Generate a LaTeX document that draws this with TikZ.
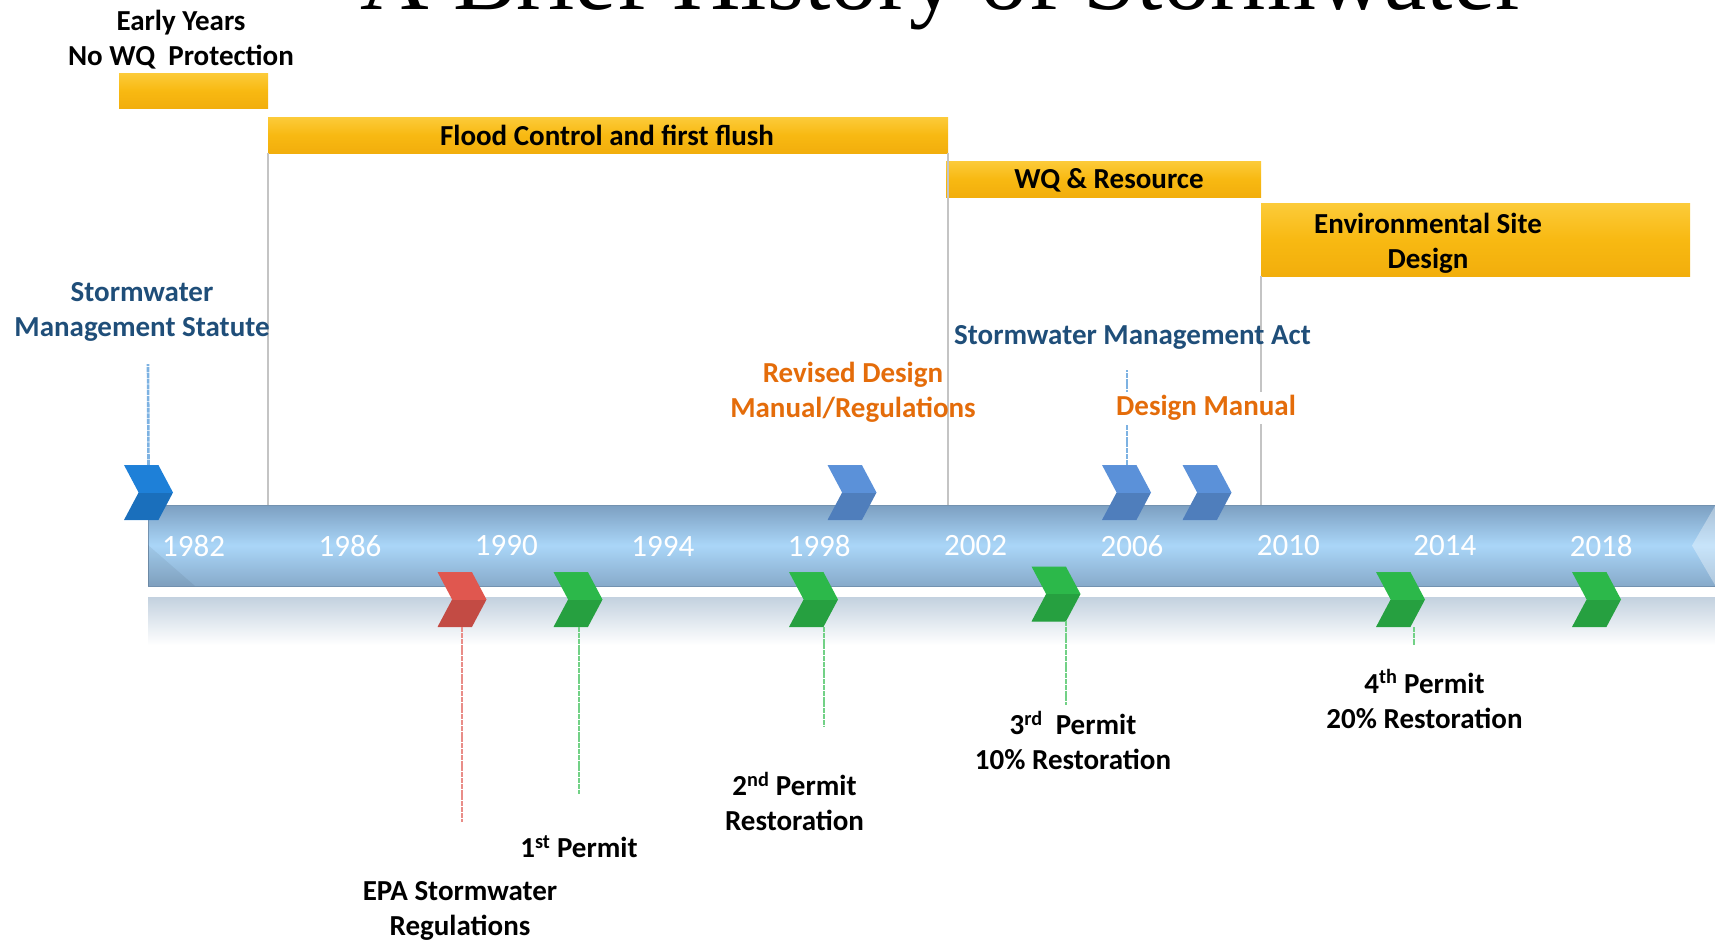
\documentclass[tikz,border=0pt]{standalone}
\usepackage{fontspec}
\setmainfont{Carlito}
\newfontfamily\titlefont{Liberation Serif}
\usetikzlibrary{shapes.symbols}
\definecolor{ybar}{HTML}{F8B912}
\definecolor{ybartop}{HTML}{FCCB3A}
\definecolor{ybarbot}{HTML}{F2AE0C}
\definecolor{gline}{HTML}{C4C4C4}
\definecolor{dblue}{HTML}{1F4E79}
\definecolor{orng}{HTML}{E46C0A}
\definecolor{tltop}{HTML}{7C9FC1}
\definecolor{tlmid}{HTML}{AAD6F8}
\definecolor{tlbot}{HTML}{87AACA}
\definecolor{tledge}{HTML}{7392B0}
\definecolor{reflc}{HTML}{C3D1DF}
\definecolor{cblue}{HTML}{1E80D8}
\definecolor{cblueb}{HTML}{5B91D9}
\definecolor{cred}{HTML}{E0574F}
\definecolor{cgreen}{HTML}{2CB84A}
\definecolor{lblue}{HTML}{7DB2E2}
\definecolor{lred}{HTML}{E98D88}
\definecolor{lgreen}{HTML}{72D186}
\begin{document}
\begin{tikzpicture}[x=1pt,y=-1pt,
  lbl/.style={font=\fontsize{29}{35}\selectfont\bfseries, align=center, inner sep=0pt},
  yr/.style={font=\fontsize{31}{36}\selectfont, text=white, inner sep=0pt},
  ybox/.style={draw=none, top color=ybartop, bottom color=ybarbot, middle color=ybar, inner sep=0pt},
  vline/.style={draw=gline, line width=2pt},
  chev/.style={signal, signal from=west, signal to=east, signal pointer angle=124,
    minimum width=49pt, minimum height=55pt, inner sep=0pt, draw=none, fill=#1,
    path picture={\fill[black,opacity=0.13] (path picture bounding box.west) rectangle (path picture bounding box.south east);
                  \fill[white,opacity=0.12] (path picture bounding box.north west) rectangle ([xshift=-14pt]path picture bounding box.north east);}},
  lead/.style={draw=#1, line width=2.6pt, dash pattern=on 5pt off 0.8pt}]
\useasboundingbox (0,0) rectangle (1715,940);
\begin{scope}
\clip (0,0) rectangle (1715,940);
% title (cut off at top, as in the original slide)
\node[font=\titlefont\fontsize{95}{100}\selectfont, anchor=base, inner sep=0pt] (title) at (944,9) {A Brief History of Stormwater};

% yellow period bars
\node[ybox, minimum width=149pt, minimum height=35pt] (b1) at (193.5,90.5) {};
\node[ybox, minimum width=680pt, minimum height=36pt] (b2) at (608,135) {};
\node[ybox, minimum width=315pt, minimum height=36pt] (b3) at (1103.5,179) {};
\node[ybox, minimum width=429pt, minimum height=73pt] (b4) at (1475.5,239.5) {};

% timeline bar and reflection
\shade[top color=reflc, bottom color=white] (148,597) rectangle (1715,645);
\node[draw=tledge, line width=0.8pt, top color=tltop, bottom color=tlbot, middle color=tlmid,
  minimum width=1567pt, minimum height=81pt, inner sep=0pt] (tl) at (931.5,545.5) {};
\fill[white,opacity=0.35] (1715,506) -- (1692,545.5) -- (1715,585) -- cycle;
\fill[black,opacity=0.06] (148,586) -- (148,545) -- (195,586) -- cycle;

% vertical separators
\draw[vline] (b2.south west) -- (b2.south west |- tl.north);
\draw[vline] (b2.south east) -- (b2.south east |- tl.north);
\draw[vline] (b4.south west) -- (b4.south west |- tl.north);

% texts in / above bars
\node[lbl] (t1) at (181,40) {Early Years\\No WQ\ \ Protection};
\node[lbl] (t2) at (607,135) {Flood Control and first flush};
\node[lbl] (t3) at (1109,180) {WQ \& Resource};
\node[lbl] (t4) at (1428,243) {Environmental Site\\Design};

% upper chevrons
\node[chev=cblue] (c1) at (148.5,492.5) {};
\node[chev=cblueb] (c2) at (852,492.5) {};
\node[chev=cblueb] (c3) at (1126.5,492.5) {};
\node[chev=cblueb] (c4) at (1207,492.5) {};

% leader ends
\coordinate (e1) at (148,364);
\coordinate (e3) at (1127,370);
\coordinate (er) at (462,822);
\coordinate (eg1) at (579,794);
\coordinate (sg2) at (824,627);
\coordinate (eg2) at (824,727);
\coordinate (sg3) at (1066,621);
\coordinate (eg3) at (1066,705);
\coordinate (sg4) at (1414,627);
\coordinate (eg4) at (1414,645);

\draw[lead=lblue] (c1.north) -- (e1);
\draw[lead=lblue] (c3.north -| e3) -- (e3);

% upper event labels
\node[lbl, text=dblue] (sms) at (142,312) {Stormwater\\Management Statute};
\node[lbl, text=dblue] (sma) at (1132.5,337) {Stormwater Management Act};
\node[lbl, text=orng] (rdm) at (853,392) {Revised Design\\Manual/Regulations};
\node[lbl, text=orng, fill=white, inner xsep=2pt, inner ysep=3pt] (dm) at (1206,408) {Design Manual};

% years
\foreach \yy [count=\k from 0] in {1982,1986,1990,1994,1998,2002,2006,2010,2014,2018}
  \node[yr] (y\yy) at (193.6+156.4*\k,546) {\yy};

% lower chevrons
\node[chev=cred] (r1) at (462,599.5) {};
\node[chev=cgreen] (g1) at (578,599.5) {};
\node[chev=cgreen] (g2) at (813.5,599.5) {};
\node[chev=cgreen] (g3) at (1056,594) {};
\node[chev=cgreen] (g4) at (1400.5,599.5) {};
\node[chev=cgreen] (g5) at (1596.5,599.5) {};

\draw[lead=lred] (r1.south -| er) -- (er);
\draw[lead=lgreen] (g1.south -| eg1) -- (eg1);
\draw[lead=lgreen] (sg2) -- (eg2);
\draw[lead=lgreen] (sg3) -- (eg3);
\draw[lead=lgreen] (sg4) -- (eg4);

% lower event labels
\node[lbl] (epa) at (460,910.5) {EPA Stormwater\\Regulations};
\node[lbl] (p1) at (579,847) {1\textsuperscript{st} Permit};
\node[lbl] (p2) at (794.5,801.5) {2\textsuperscript{nd} Permit\\Restoration};
\node[lbl] (p3) at (1073,740) {3\textsuperscript{rd}\ \ Permit\\10\% Restoration};
\node[lbl] (p4) at (1424.5,699) {4\textsuperscript{th} Permit\\20\% Restoration};
\end{scope}
\end{tikzpicture}
\end{document}
